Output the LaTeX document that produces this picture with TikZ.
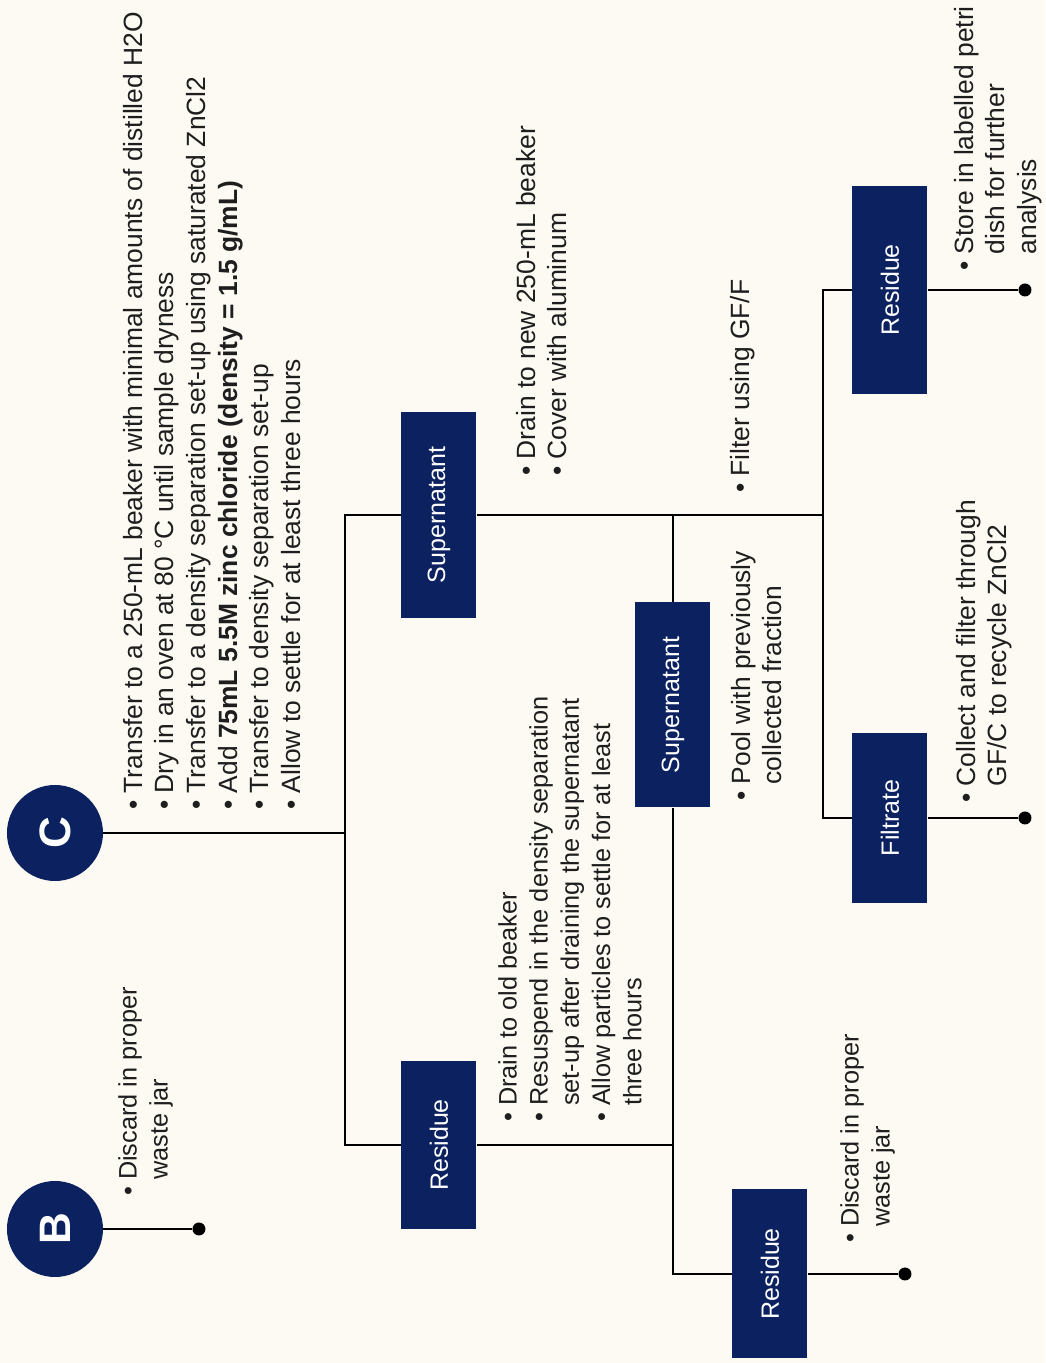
\documentclass[tikz,border=0pt]{standalone}
\usepackage[rgb]{xcolor}
\usepackage{fontspec}
\setmainfont{Liberation Sans}
\usepackage{tikz}

\definecolor{paper}{RGB}{253,250,243}
\definecolor{navy}{RGB}{11,33,96}
\definecolor{ink}{RGB}{30,30,30}
\newcommand{\bul}{\textbullet\ }
\newcommand{\cont}{\phantom{\textbullet\ }}

\begin{document}
\begin{tikzpicture}[x=1pt, y=1pt,
  stage/.style={circle, fill=navy, text=white, minimum size=96, inner sep=0,
    font=\bfseries\fontsize{44}{44}\selectfont},
  fraction/.style={rectangle, fill=navy, text=white, minimum height=75, inner sep=0,
    font=\fontsize{25}{25}\selectfont},
  note/.style={anchor=north west, inner sep=0, align=left, text=ink,
    font=\fontsize{25.3}{31.2}\selectfont},
  bignote/.style={note, font=\fontsize{26.4}{31.6}\selectfont},
  tipdot/.style={circle, fill=black, inner sep=0, minimum size=13},
  wire/.style={draw=black, line width=1.6}]
\begin{scope}[rotate=90, transform shape]
\useasboundingbox (0,0) rectangle (1363,1045);
\fill[paper] (0,0) rectangle (1363,1045);

%% stages and fractions
\path
(530,990) node[stage](C) {C}
(134,990) node[stage](B) {B}
(848,606) node[fraction, minimum width=206](sup1) {Supernatant}
(218,606) node[fraction, minimum width=168](res1) {Residue}
(658,372) node[fraction, minimum width=205](sup2) {Supernatant}
(89,275) node[fraction, minimum width=169](res2) {Residue}
(1073,155) node[fraction, minimum width=208](res3) {Residue}
(545,155) node[fraction, minimum width=170](filt) {Filtrate};

%% end points and junctions
\path
(134,846) node[tipdot](Bdot) {}
(89,140) node[tipdot](res2dot) {}
(1073,20) node[tipdot](res3dot) {}
(545,20) node[tipdot](filtdot) {};
\coordinate (jc) at (530,700);
\coordinate (js) at (848,372);
\coordinate (jf) at (848,222);

%% connectors
\draw[wire] (C) -- (jc);
\draw[wire] (jc) -| (sup1);
\draw[wire] (jc) -| (res1);
\draw[wire] (sup1) -- (jf);
\draw[wire] (js) -- (sup2);
\draw[wire] (sup2) -| (res2);
\draw[wire] (res1) -- (res1 |- sup2);
\draw[wire] (filt) |- (jf) -| (res3);
\draw[wire] (B) -- (Bdot);
\draw[wire] (res2) -- (res2dot);
\draw[wire] (res3) -- (res3dot);
\draw[wire] (filt) -- (filtdot);

%% notes
\node[bignote] (Cnote) at (553,922) {\bul Transfer to a 250-mL beaker with minimal amounts of distilled H2O\\
\bul Dry in an oven at 80 °C until sample dryness\\
\bul Transfer to a density separation set-up using saturated ZnCl2\\
\bul Add \textbf{75mL 5.5M zinc chloride (density = 1.5 g/mL)}\\
\bul Transfer to density separation set-up\\
\bul Allow to settle for at least three hours};
\node[note] (Bnote) at (167,927) {\bul Discard in proper\\ \cont waste jar};
\node[bignote] (sup1note) at (887,529) {\bul Drain to new 250-mL beaker\\ \bul Cover with aluminum};
\node[note] (res1note) at (241,547) {\bul Drain to old beaker\\
\bul Resuspend in the density separation\\
\cont set-up after draining the supernatant\\
\bul Allow particles to settle for at least\\
\cont three hours};
\node[bignote] (filtnote) at (870,315) {\bul Filter using GF/F};
\node[bignote] (sup2note) at (562,314) {\bul Pool with previously\\ \cont collected fraction};
\node[note] (res2note) at (120,205) {\bul Discard in proper\\ \cont waste jar};
\node[bignote] (filtnote2) at (560,89) {\bul Collect and filter through\\ \cont GF/C to recycle ZnCl2};
\node[bignote] (res3note) at (1092,91) {\bul Store in labelled petri\\ \cont dish for further\\ \cont analysis};
\end{scope}
\end{tikzpicture}
\end{document}
